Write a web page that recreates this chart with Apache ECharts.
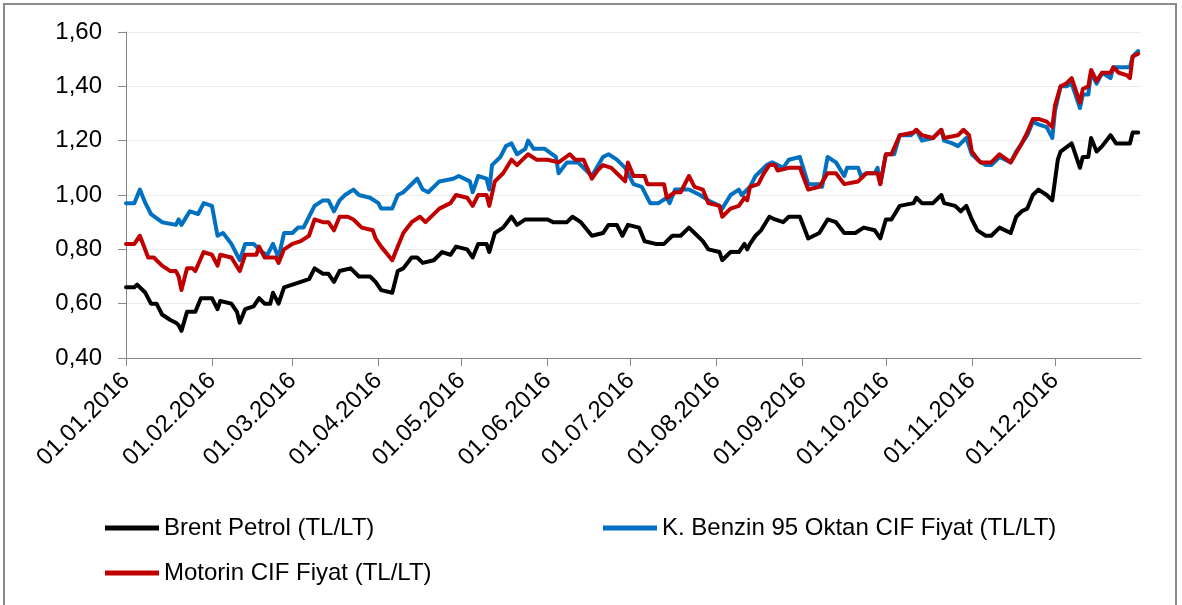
<!DOCTYPE html>
<html>
<head>
<meta charset="utf-8">
<script src="https://cdn.jsdelivr.net/npm/echarts@6/dist/echarts.min.js"></script>
<style>
html,body{margin:0;padding:0;background:#fff;}
#chart{width:1182px;height:605px;}
</style>
</head>
<body>
<div id="chart"></div>
<script>
// ---- DATA (year 2016, "MM-DD" -> value in TL/LT) ----
const seriesNames = ['Brent Petrol (TL/LT)', 'K. Benzin 95 Oktan CIF Fiyat (TL/LT)', 'Motorin CIF Fiyat (TL/LT)'];
const tickLabels = ['01.01.2016','01.02.2016','01.03.2016','01.04.2016','01.05.2016','01.06.2016','01.07.2016','01.08.2016','01.09.2016','01.10.2016','01.11.2016','01.12.2016'];
const yTicks = [0.40, 0.60, 0.80, 1.00, 1.20, 1.40, 1.60];

const brent = [
['01-01',0.66],['01-04',0.66],['01-05',0.67],['01-08',0.64],['01-10',0.60],['01-12',0.60],['01-14',0.56],['01-17',0.54],['01-19',0.53],['01-20',0.52],['01-21',0.50],['01-23',0.57],['01-26',0.57],['01-28',0.62],
['02-01',0.62],['02-03',0.58],['02-04',0.61],['02-08',0.60],['02-10',0.57],['02-11',0.53],['02-13',0.58],['02-16',0.59],['02-18',0.62],['02-20',0.60],['02-22',0.60],['02-23',0.64],['02-25',0.60],['02-27',0.66],
['03-01',0.67],['03-04',0.68],['03-07',0.69],['03-09',0.73],['03-12',0.71],['03-14',0.71],['03-16',0.68],['03-18',0.72],['03-22',0.73],['03-25',0.70],['03-29',0.70],['03-31',0.68],
['04-02',0.65],['04-06',0.64],['04-08',0.72],['04-10',0.73],['04-13',0.77],['04-15',0.77],['04-17',0.75],['04-21',0.76],['04-24',0.79],['04-27',0.78],['04-29',0.81],
['05-03',0.80],['05-05',0.77],['05-07',0.82],['05-10',0.82],['05-11',0.79],['05-13',0.86],['05-16',0.88],['05-19',0.92],['05-21',0.89],['05-24',0.91],['05-28',0.91],
['06-01',0.91],['06-03',0.90],['06-08',0.90],['06-10',0.92],['06-13',0.90],['06-17',0.85],['06-21',0.86],['06-23',0.89],['06-26',0.89],['06-28',0.85],['06-30',0.89],
['07-04',0.88],['07-06',0.83],['07-10',0.82],['07-13',0.82],['07-14',0.83],['07-16',0.85],['07-19',0.85],['07-22',0.88],['07-24',0.86],['07-27',0.83],['07-29',0.80],
['08-02',0.79],['08-03',0.76],['08-06',0.79],['08-09',0.79],['08-11',0.82],['08-12',0.80],['08-13',0.82],['08-15',0.85],['08-17',0.87],['08-20',0.92],['08-22',0.91],['08-25',0.90],['08-27',0.92],['08-31',0.92],
['09-03',0.84],['09-07',0.86],['09-10',0.91],['09-13',0.90],['09-16',0.86],['09-20',0.86],['09-23',0.88],['09-27',0.87],['09-29',0.84],
['10-01',0.91],['10-03',0.91],['10-06',0.96],['10-11',0.97],['10-12',0.99],['10-14',0.97],['10-18',0.97],['10-21',1.00],['10-22',0.97],['10-26',0.96],['10-28',0.94],['10-30',0.96],
['11-01',0.91],['11-03',0.87],['11-06',0.85],['11-08',0.85],['11-11',0.88],['11-15',0.86],['11-17',0.92],['11-19',0.94],['11-21',0.95],['11-23',1.00],['11-25',1.02],['11-28',1.00],['11-30',0.98],
['12-02',1.13],['12-03',1.16],['12-07',1.19],['12-10',1.10],['12-11',1.14],['12-13',1.14],['12-14',1.21],['12-16',1.16],['12-18',1.18],['12-21',1.22],['12-23',1.19],['12-28',1.19],['12-29',1.23],['12-31',1.23]
];

const benzin = [
['01-01',0.97],['01-04',0.97],['01-06',1.02],['01-08',0.97],['01-10',0.93],['01-14',0.90],['01-19',0.89],['01-20',0.91],['01-21',0.89],['01-24',0.94],['01-27',0.93],['01-29',0.97],
['02-01',0.96],['02-03',0.85],['02-05',0.86],['02-08',0.82],['02-11',0.76],['02-13',0.82],['02-16',0.82],['02-19',0.79],['02-21',0.78],['02-23',0.82],['02-25',0.77],['02-27',0.86],
['03-01',0.86],['03-03',0.88],['03-05',0.88],['03-07',0.92],['03-09',0.96],['03-12',0.98],['03-14',0.98],['03-16',0.94],['03-18',0.98],['03-20',1.00],['03-23',1.02],['03-25',1.00],['03-29',0.99],
['04-01',0.97],['04-02',0.95],['04-06',0.95],['04-08',1.00],['04-10',1.01],['04-15',1.06],['04-17',1.02],['04-19',1.01],['04-23',1.05],['04-28',1.06],['04-30',1.07],
['05-04',1.05],['05-05',1.01],['05-07',1.07],['05-10',1.06],['05-11',1.02],['05-12',1.11],['05-15',1.14],['05-17',1.18],['05-19',1.19],['05-21',1.15],['05-24',1.17],['05-25',1.20],['05-27',1.17],['05-31',1.17],
['06-04',1.14],['06-05',1.08],['06-08',1.12],['06-12',1.12],['06-16',1.08],['06-17',1.07],['06-21',1.14],['06-23',1.15],['06-26',1.13],['06-29',1.10],
['07-02',1.04],['07-05',1.03],['07-08',0.97],['07-11',0.97],['07-14',0.99],['07-15',0.97],['07-17',1.02],['07-22',1.02],['07-26',1.00],['07-29',0.98],
['08-02',0.96],['08-03',0.95],['08-06',1.00],['08-09',1.02],['08-10',1.00],['08-13',1.03],['08-15',1.07],['08-19',1.11],['08-21',1.12],['08-23',1.11],['08-25',1.10],['08-27',1.13],['08-31',1.14],
['09-03',1.04],['09-07',1.04],['09-08',1.03],['09-10',1.14],['09-13',1.12],['09-16',1.07],['09-17',1.10],['09-21',1.10],['09-22',1.07],['09-24',1.08],['09-27',1.08],['09-28',1.10],['09-29',1.04],
['10-01',1.15],['10-04',1.15],['10-06',1.22],['10-10',1.22],['10-12',1.24],['10-14',1.20],['10-18',1.21],['10-21',1.24],['10-22',1.20],['10-25',1.19],['10-27',1.18],['10-30',1.21],
['11-01',1.15],['11-03',1.13],['11-06',1.11],['11-08',1.11],['11-11',1.14],['11-15',1.12],['11-17',1.16],['11-19',1.19],['11-21',1.22],['11-23',1.27],['11-25',1.26],['11-28',1.25],['11-30',1.21],
['12-01',1.31],['12-03',1.40],['12-05',1.40],['12-07',1.41],['12-10',1.32],['12-11',1.37],['12-13',1.37],['12-14',1.45],['12-16',1.41],['12-18',1.45],['12-21',1.43],['12-22',1.47],['12-24',1.47],['12-28',1.47],['12-29',1.51],['12-31',1.53]
];

const motorin = [
['01-01',0.82],['01-04',0.82],['01-06',0.85],['01-09',0.77],['01-11',0.77],['01-14',0.74],['01-17',0.72],['01-19',0.72],['01-20',0.70],['01-21',0.65],['01-23',0.73],['01-25',0.73],['01-26',0.72],['01-29',0.79],
['02-01',0.78],['02-03',0.74],['02-04',0.78],['02-08',0.77],['02-11',0.72],['02-13',0.78],['02-17',0.78],['02-18',0.81],['02-20',0.77],['02-24',0.77],['02-25',0.75],['02-27',0.80],
['03-01',0.82],['03-04',0.83],['03-07',0.85],['03-09',0.91],['03-12',0.90],['03-14',0.90],['03-16',0.87],['03-18',0.92],['03-21',0.92],['03-23',0.91],['03-26',0.88],['03-30',0.87],['03-31',0.84],
['04-02',0.81],['04-06',0.76],['04-08',0.81],['04-10',0.86],['04-13',0.90],['04-16',0.92],['04-18',0.90],['04-23',0.95],['04-27',0.97],['04-29',1.00],
['05-03',0.99],['05-05',0.96],['05-07',1.00],['05-10',1.00],['05-11',0.96],['05-13',1.05],['05-16',1.08],['05-19',1.13],['05-21',1.11],['05-23',1.13],['05-25',1.15],['05-28',1.13],
['06-01',1.13],['06-05',1.12],['06-09',1.15],['06-11',1.13],['06-14',1.13],['06-17',1.06],['06-19',1.09],['06-21',1.11],['06-24',1.10],['06-26',1.08],['06-29',1.05],['06-30',1.12],
['07-02',1.07],['07-06',1.07],['07-07',1.04],['07-13',1.04],['07-14',0.99],['07-17',1.01],['07-19',1.01],['07-22',1.07],['07-24',1.03],['07-27',1.02],['07-29',0.97],
['08-02',0.96],['08-03',0.92],['08-06',0.95],['08-09',0.96],['08-11',0.99],['08-12',0.98],['08-13',1.03],['08-16',1.04],['08-18',1.08],['08-20',1.11],['08-22',1.11],['08-23',1.09],['08-27',1.10],['08-31',1.10],
['09-03',1.02],['09-07',1.03],['09-10',1.08],['09-13',1.08],['09-16',1.04],['09-21',1.05],['09-24',1.08],['09-28',1.08],['09-29',1.04],
['10-01',1.15],['10-03',1.15],['10-06',1.22],['10-11',1.23],['10-12',1.24],['10-14',1.22],['10-18',1.21],['10-21',1.24],['10-22',1.21],['10-27',1.22],['10-29',1.24],['10-31',1.22],
['11-01',1.16],['11-04',1.12],['11-08',1.12],['11-11',1.15],['11-15',1.12],['11-19',1.19],['11-21',1.23],['11-23',1.28],['11-25',1.28],['11-28',1.27],['11-30',1.25],
['12-01',1.33],['12-03',1.40],['12-05',1.41],['12-07',1.43],['12-10',1.34],['12-11',1.39],['12-13',1.40],['12-14',1.46],['12-16',1.42],['12-18',1.45],['12-21',1.45],['12-22',1.47],['12-24',1.45],['12-27',1.44],['12-28',1.43],['12-29',1.51],['12-31',1.52]
];

const colors = ['#000000', '#0070C0', '#C00000'];

// ---- helpers ----
function toTime(md) {
  const p = md.split('-');
  return new Date(2016, +p[0] - 1, +p[1]).getTime();
}
function labelToTime(s) {
  const p = s.split('.');
  return new Date(+p[2], +p[1] - 1, +p[0]).getTime();
}
function pad(n) { return (n < 10 ? '0' : '') + n; }
function fmtDate(t) {
  const d = new Date(t);
  return pad(d.getDate()) + '.' + pad(d.getMonth() + 1) + '.' + d.getFullYear();
}
const tickTimes = tickLabels.map(labelToTime);
const FONT = 'Liberation Sans, Arial, sans-serif';
const FS = 24;

const chart = echarts.init(document.getElementById('chart'), null, {renderer: 'canvas'});

function mkSeries(name, data, color, z) {
  return {
    name: name,
    type: 'line',
    data: data.map(d => [toTime(d[0]), d[1]]),
    showSymbol: false,
    symbol: 'none',
    lineStyle: {color: color, width: 4, join: 'round', cap: 'round'},
    itemStyle: {color: color},
    z: z,
    animation: false
  };
}

const option = {
  animation: false,
  backgroundColor: '#ffffff',
  textStyle: {fontFamily: FONT},
  graphic: [{
    type: 'rect',
    shape: {x: 4, y: 4, width: 1172, height: 640},
    style: {fill: 'none', stroke: '#8c8c8c', lineWidth: 2},
    silent: true
  }],
  grid: {left: 126, right: 41, top: 32, bottom: 247, containLabel: false},
  xAxis: {
    type: 'value',
    min: labelToTime('01.01.2016'),
    max: labelToTime('01.01.2017'),
    axisLine: {show: true, lineStyle: {color: '#868686', width: 1}},
    axisTick: {show: true, customValues: tickTimes, length: 8, lineStyle: {color: '#868686'}},
    axisLabel: {
      show: true,
      customValues: tickTimes,
      rotate: 45,
      margin: 19,
      fontSize: FS,
      color: '#000',
      fontFamily: FONT,
      formatter: function (v) { return fmtDate(v); }
    },
    splitLine: {show: false}
  },
  yAxis: {
    type: 'value',
    min: 0.4,
    max: 1.6,
    interval: 0.2,
    axisLine: {show: true, lineStyle: {color: '#868686', width: 1}},
    axisTick: {show: true, length: 8, inside: false, lineStyle: {color: '#868686'}},
    axisLabel: {
      margin: 24,
      fontSize: FS,
      color: '#000',
      fontFamily: FONT,
      formatter: function (v) { return v.toFixed(2).replace('.', ','); }
    },
    splitLine: {show: true, lineStyle: {color: '#ebebeb', width: 1}}
  },
  legend: [{
    data: [seriesNames[0], seriesNames[2]],
    orient: 'vertical',
    left: 100,
    top: 510,
    itemGap: 19,
    icon: 'rect',
    itemWidth: 54,
    itemHeight: 5,
    textStyle: {fontSize: FS, color: '#000', fontFamily: FONT, lineHeight: 26},
    selectedMode: false
  }, {
    data: [seriesNames[1]],
    orient: 'vertical',
    left: 598,
    top: 510,
    icon: 'rect',
    itemWidth: 54,
    itemHeight: 5,
    textStyle: {fontSize: FS, color: '#000', fontFamily: FONT, lineHeight: 26},
    selectedMode: false
  }],
  series: [
    mkSeries(seriesNames[0], brent, colors[0], 3),
    mkSeries(seriesNames[1], benzin, colors[1], 2),
    mkSeries(seriesNames[2], motorin, colors[2], 4)
  ]
};
chart.setOption(option);
</script>
</body>
</html>
